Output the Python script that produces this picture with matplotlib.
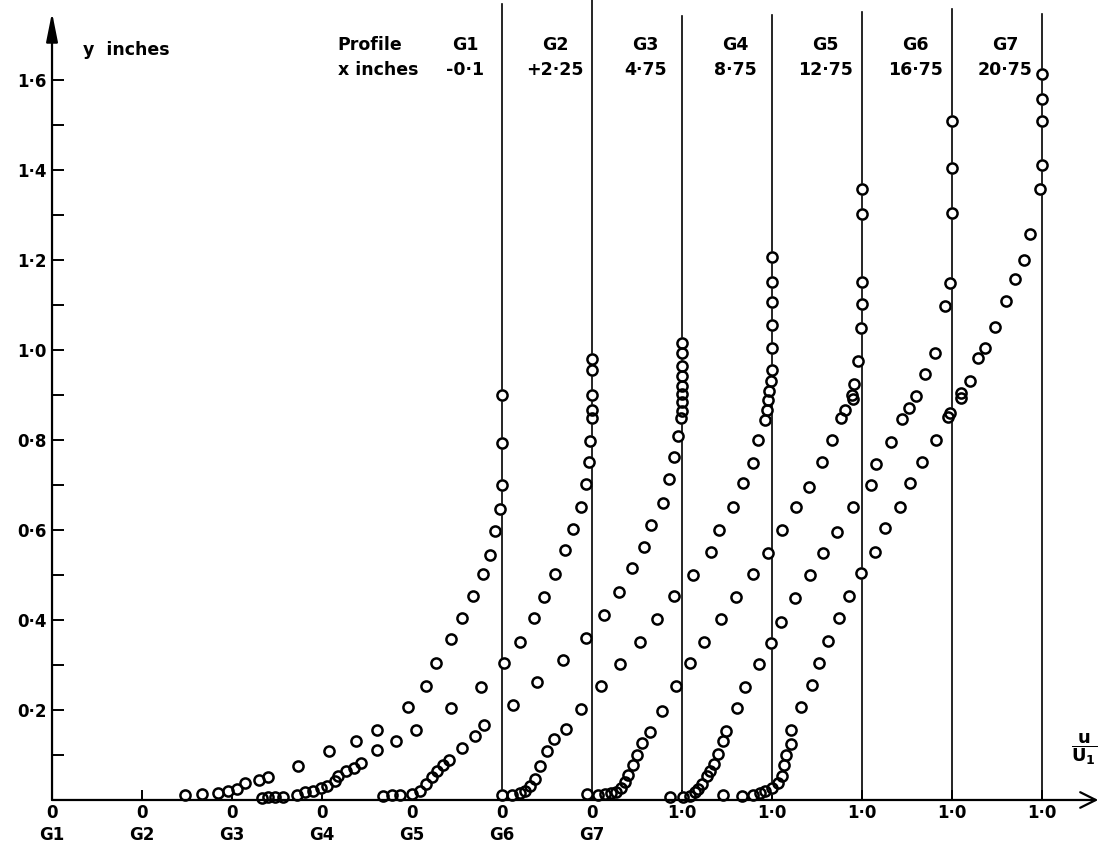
#!/usr/bin/env python3
"""Mean velocity profiles G1-G7, each traverse shifted 0.2 along u/U1."""

from __future__ import annotations

import matplotlib

matplotlib.use("Agg")
import matplotlib.pyplot as plt

PROFILES = ["G1", "G2", "G3", "G4", "G5", "G6", "G7"]
X_INCHES = ["-0·1", "+2·25", "4·75", "8·75", "12·75", "16·75", "20·75"]

# u/U1 and y (inches) for each traverse, from the wall outwards
G1_U = [0.296, 0.333, 0.369, 0.391, 0.411, 0.428, 0.459, 0.479, 0.546, 0.616, 0.676, 0.722, 0.791,
        0.830, 0.854, 0.886, 0.912, 0.936, 0.958, 0.973, 0.985, 0.996, 1.0, 1.0, 1.0]
G1_Y = [0.011, 0.014, 0.016, 0.021, 0.024, 0.037, 0.044, 0.051, 0.076, 0.109, 0.130, 0.155, 0.207,
        0.254, 0.305, 0.357, 0.404, 0.453, 0.502, 0.545, 0.598, 0.647, 0.701, 0.794, 0.901]

G2_U = [0.267, 0.280, 0.296, 0.313, 0.344, 0.362, 0.380, 0.398, 0.411, 0.428, 0.435, 0.453, 0.470,
        0.486, 0.523, 0.565, 0.609, 0.686, 0.754, 0.805, 0.840, 0.870, 0.894, 0.918, 0.941, 0.958,
        0.976, 0.986, 0.994, 0.996, 1.0, 1.0, 1.0, 1.0, 1.0]
G2_Y = [0.004, 0.007, 0.007, 0.007, 0.012, 0.017, 0.021, 0.026, 0.031, 0.042, 0.053, 0.065, 0.072,
        0.083, 0.110, 0.131, 0.156, 0.204, 0.251, 0.305, 0.352, 0.404, 0.451, 0.502, 0.556, 0.603,
        0.652, 0.703, 0.750, 0.797, 0.848, 0.866, 0.901, 0.955, 0.981]

G3_U = [0.336, 0.356, 0.373, 0.400, 0.418, 0.431, 0.444, 0.455, 0.468, 0.483, 0.510, 0.540, 0.560,
        0.624, 0.677, 0.736, 0.786, 0.826, 0.860, 0.889, 0.915, 0.932, 0.958, 0.970, 0.983, 0.991,
        0.997, 0.999, 1.0, 1.0, 1.0, 1.0, 1.0, 1.0, 1.0]
G3_Y = [0.008, 0.011, 0.011, 0.013, 0.020, 0.036, 0.050, 0.065, 0.077, 0.088, 0.115, 0.142, 0.167,
        0.212, 0.262, 0.312, 0.361, 0.411, 0.462, 0.516, 0.563, 0.612, 0.659, 0.713, 0.762, 0.809,
        0.849, 0.864, 0.884, 0.902, 0.920, 0.942, 0.964, 0.993, 1.015]

G4_U = [0.400, 0.422, 0.440, 0.451, 0.462, 0.473, 0.484, 0.501, 0.516, 0.542, 0.575, 0.621, 0.663,
        0.706, 0.744, 0.783, 0.824, 0.864, 0.883, 0.913, 0.935, 0.957, 0.969, 0.984, 0.988, 0.990,
        0.994, 0.998, 1.0, 1.0, 1.0, 1.0, 1.0, 1.0]
G4_Y = [0.010, 0.012, 0.015, 0.019, 0.030, 0.046, 0.075, 0.109, 0.136, 0.158, 0.203, 0.253, 0.302,
        0.350, 0.403, 0.453, 0.500, 0.552, 0.599, 0.650, 0.704, 0.749, 0.800, 0.845, 0.867, 0.889,
        0.909, 0.931, 0.956, 1.005, 1.056, 1.107, 1.152, 1.207]

G5_U = [0.389, 0.413, 0.429, 0.442, 0.453, 0.464, 0.473, 0.479, 0.490, 0.501, 0.510, 0.529, 0.555,
        0.586, 0.618, 0.649, 0.686, 0.721, 0.758, 0.790, 0.823, 0.853, 0.882, 0.910, 0.934, 0.953,
        0.962, 0.979, 0.977, 0.983, 0.991, 0.997, 1.0, 1.0, 1.0, 1.0]
G5_Y = [0.014, 0.010, 0.013, 0.015, 0.018, 0.027, 0.040, 0.056, 0.078, 0.100, 0.127, 0.152, 0.197,
        0.253, 0.304, 0.352, 0.403, 0.450, 0.502, 0.549, 0.601, 0.650, 0.695, 0.751, 0.800, 0.849,
        0.867, 0.890, 0.901, 0.925, 0.976, 1.050, 1.103, 1.152, 1.303, 1.357]

G6_U = [0.374, 0.402, 0.418, 0.429, 0.436, 0.444, 0.455, 0.462, 0.472, 0.479, 0.490, 0.498, 0.522,
        0.541, 0.572, 0.598, 0.621, 0.652, 0.684, 0.713, 0.745, 0.780, 0.819, 0.832, 0.865, 0.889,
        0.904, 0.919, 0.940, 0.962, 0.985, 0.995, 1.0, 1.0, 1.0]
G6_Y = [0.006, 0.006, 0.009, 0.018, 0.025, 0.036, 0.054, 0.065, 0.081, 0.103, 0.130, 0.154, 0.204,
        0.251, 0.302, 0.349, 0.396, 0.448, 0.501, 0.549, 0.596, 0.650, 0.701, 0.746, 0.795, 0.847,
        0.871, 0.898, 0.947, 0.994, 1.097, 1.150, 1.304, 1.404, 1.508]

G7_U = [0.291, 0.333, 0.358, 0.373, 0.384, 0.400, 0.413, 0.422, 0.426, 0.432, 0.443, 0.443, 0.464,
        0.488, 0.505, 0.524, 0.548, 0.572, 0.598, 0.628, 0.652, 0.685, 0.706, 0.734, 0.765, 0.791,
        0.795, 0.819, 0.821, 0.839, 0.858, 0.873, 0.895, 0.920, 0.940, 0.959, 0.974, 0.995, 1.0,
        1.0, 1.0, 1.0]
G7_Y = [0.012, 0.008, 0.011, 0.015, 0.020, 0.027, 0.038, 0.054, 0.078, 0.101, 0.125, 0.156, 0.206,
        0.255, 0.304, 0.353, 0.405, 0.454, 0.505, 0.552, 0.604, 0.651, 0.705, 0.752, 0.801, 0.850,
        0.861, 0.904, 0.893, 0.931, 0.982, 1.005, 1.052, 1.108, 1.157, 1.199, 1.257, 1.358, 1.411,
        1.509, 1.558, 1.613]

# how far up (y inches) the u/U1 = 1 line of each profile is ruled
LINE_TOP = [1.768, 1.777, 1.742, 1.745, 1.752, 1.757, 1.747]

Y_MAJOR = [0.2, 0.4, 0.6, 0.8, 1.0, 1.2, 1.4, 1.6]
Y_MINOR = [0.1, 0.3, 0.5, 0.7, 0.9, 1.1, 1.3, 1.5]

SHIFT = 0.2  # origin of each profile moves this far along u/U1


def dotted(v: float) -> str:
    # old-style decimal point: 1·6
    return f"{v:.1f}".replace(".", "·")


def render(output: str) -> None:
    plt.rcParams["font.family"] = ["DejaVu Sans"]
    plt.rcParams["font.weight"] = "bold"
    plt.rcParams["mathtext.fontset"] = "dejavusans"

    us = [G1_U, G2_U, G3_U, G4_U, G5_U, G6_U, G7_U]
    ys = [G1_Y, G2_Y, G3_Y, G4_Y, G5_Y, G6_Y, G7_Y]

    fig = plt.figure(figsize=(11.02, 8.48), dpi=100)
    ax = fig.add_axes((0, 0, 1, 1))
    ax.set_xlim(-0.1156, 2.3333)
    ax.set_ylim(-0.1067, 1.7778)

    for i in range(len(PROFILES)):
        base = SHIFT * i
        ax.plot([base + 1, base + 1], [0, LINE_TOP[i]], color="black", lw=1.2, zorder=2)
        xs = [base + u for u in us[i]]
        # white discs first so the rings of neighbouring points all stay visible
        ax.plot(xs, ys[i], ls="none", marker="o", ms=8.5, mfc="white", mec="none", zorder=2.5)
        ax.plot(xs, ys[i], ls="none", marker="o", ms=7.3, mfc="none", mec="black", mew=1.8,
                zorder=3)

    # axes drawn as arrows from the origin
    ax.annotate("", xy=(0, 1.75), xytext=(0, 0),
                arrowprops=dict(arrowstyle="-|>,head_length=1.1,head_width=0.22", lw=1.6,
                                color="black", mutation_scale=16, shrinkA=0, shrinkB=0))
    ax.annotate("", xy=(2.325, 0), xytext=(0, 0),
                arrowprops=dict(arrowstyle="->,head_length=0.7,head_width=0.35", lw=1.6,
                                color="black", mutation_scale=16, shrinkA=0, shrinkB=0))

    for side in ax.spines.values():
        side.set_visible(False)
    ax.spines["left"].set_position(("data", 0))
    ax.spines["bottom"].set_position(("data", 0))

    origins = [SHIFT * i for i in range(len(PROFILES))]
    ones = [o + 1 for o in origins if o + 1 > origins[-1] + 1e-9]
    ax.set_xticks(origins + ones, [f"0\n{p}" for p in PROFILES] + ["1·0"] * len(ones))
    ax.tick_params(axis="x", direction="in", length=7, width=1.4, pad=3, labelsize=12)
    for lab in ax.get_xticklabels():
        lab.set_linespacing(1.3)

    ax.set_yticks(Y_MAJOR, [dotted(v) for v in Y_MAJOR])
    ax.set_yticks(Y_MINOR, minor=True)
    ax.tick_params(axis="y", which="both", direction="in", length=8.5, width=1.4, pad=4,
                   labelsize=12)
    ax.tick_params(top=False, right=False)

    ax.text(0.068, 1.666, "y  inches", ha="left", va="center", fontsize=12.5)
    ax.text(0.635, 1.677, "Profile", ha="left", va="center", fontsize=12.5)
    ax.text(0.635, 1.622, "x inches", ha="left", va="center", fontsize=12.5)
    for i, (name, xin) in enumerate(zip(PROFILES, X_INCHES)):
        xc = SHIFT * i + 1 - 0.082
        ax.text(xc, 1.677, name, ha="center", va="center", fontsize=12.5)
        ax.text(xc, 1.622, xin, ha="center", va="center", fontsize=12.5)

    ax.text(2.294, 0.114, r"$\dfrac{\mathbf{u}}{\mathbf{U_1}}$", ha="center", va="center",
            fontsize=13)

    fig.savefig(output, dpi=100, facecolor="white")
    plt.close(fig)


def main() -> int:
    render("out.png")
    return 0


if __name__ == "__main__":
    raise SystemExit(main())
